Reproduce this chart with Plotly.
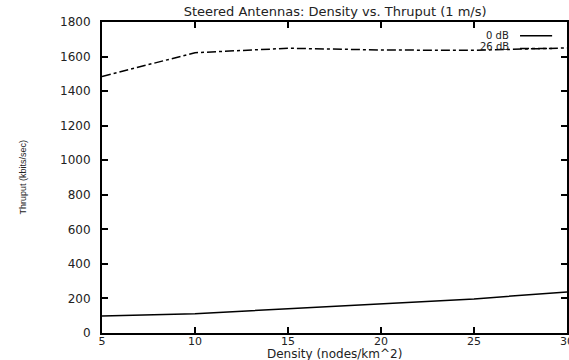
import plotly.graph_objects as go

density = [5, 10, 15, 20, 25, 30]
thruput_0db = [98, 112, 140, 168, 197, 238]
thruput_26db = [1485, 1622, 1648, 1638, 1636, 1650]
series_names = ["0 dB", "26 dB"]

x_ticks = [5, 10, 15, 20, 25, 30]
y_ticks = [0, 200, 400, 600, 800, 1000, 1200, 1400, 1600, 1800]

FONT = "DejaVu Sans, Liberation Sans, sans-serif"
TXT = "#222"

fig = go.Figure()
fig.add_trace(go.Scatter(x=density, y=thruput_0db, mode="lines", name=series_names[0],
                         line=dict(color="black", width=1.5), showlegend=False))
fig.add_trace(go.Scatter(x=density, y=thruput_26db, mode="lines", name=series_names[1],
                         line=dict(color="black", width=1.5, dash="dashdot"), showlegend=False))

axis_common = dict(showgrid=False, zeroline=False, showline=True, linecolor="black",
                   linewidth=2, mirror="ticks", ticks="inside", ticklen=6, tickwidth=2,
                   tickcolor="black", automargin=False)

fig.update_xaxes(range=[5, 30], tickvals=x_ticks, ticklabeloverflow="allow",
                 ticklabelstandoff=-3, tickfont=dict(family=FONT, size=11, color=TXT),
                 **axis_common)
fig.update_yaxes(range=[0, 1800], tickvals=y_ticks, ticklabelstandoff=7,
                 tickfont=dict(family=FONT, size=12, color=TXT), **axis_common)

# axis titles
fig.add_annotation(xref="paper", yref="paper", x=0.50, y=-0.093, text="Density (nodes/km^2)",
                   showarrow=False, xanchor="center", yanchor="bottom", borderpad=0,
                   font=dict(family=FONT, size=12, color=TXT))
fig.add_annotation(xref="paper", yref="paper", x=-0.172, y=0.50, text="Thruput (kbits/sec)",
                   showarrow=False, xanchor="center", yanchor="middle", textangle=-90,
                   font=dict(family="Liberation Sans, Arial, sans-serif", size=9, color=TXT))

# gnuplot-style legend: text to the left of line sample
legend_rows = [(0.958, 0.956, "solid"), (0.922, 0.915, "dashdot")]
for (ty, ly, dash), name in zip(legend_rows, series_names):
    fig.add_annotation(xref="paper", yref="paper", x=0.877, y=ty, text=name, showarrow=False,
                       xanchor="right", yanchor="middle", borderpad=0,
                       font=dict(family=FONT, size=10, color=TXT))
    fig.add_shape(type="line", xref="paper", yref="paper", x0=0.899, x1=0.968, y0=ly, y1=ly,
                  line=dict(color="black", width=1.5, dash=dash))

fig.update_layout(
    width=569, height=360,
    margin=dict(l=102, r=2, t=22, b=27),
    paper_bgcolor="white", plot_bgcolor="white",
    title=dict(text="Steered Antennas: Density vs. Thruput (1 m/s)", x=0.589, xanchor="center",
               y=0.968, yanchor="middle", font=dict(family=FONT, size=13, color=TXT)),
)

fig.write_html("out.html")
